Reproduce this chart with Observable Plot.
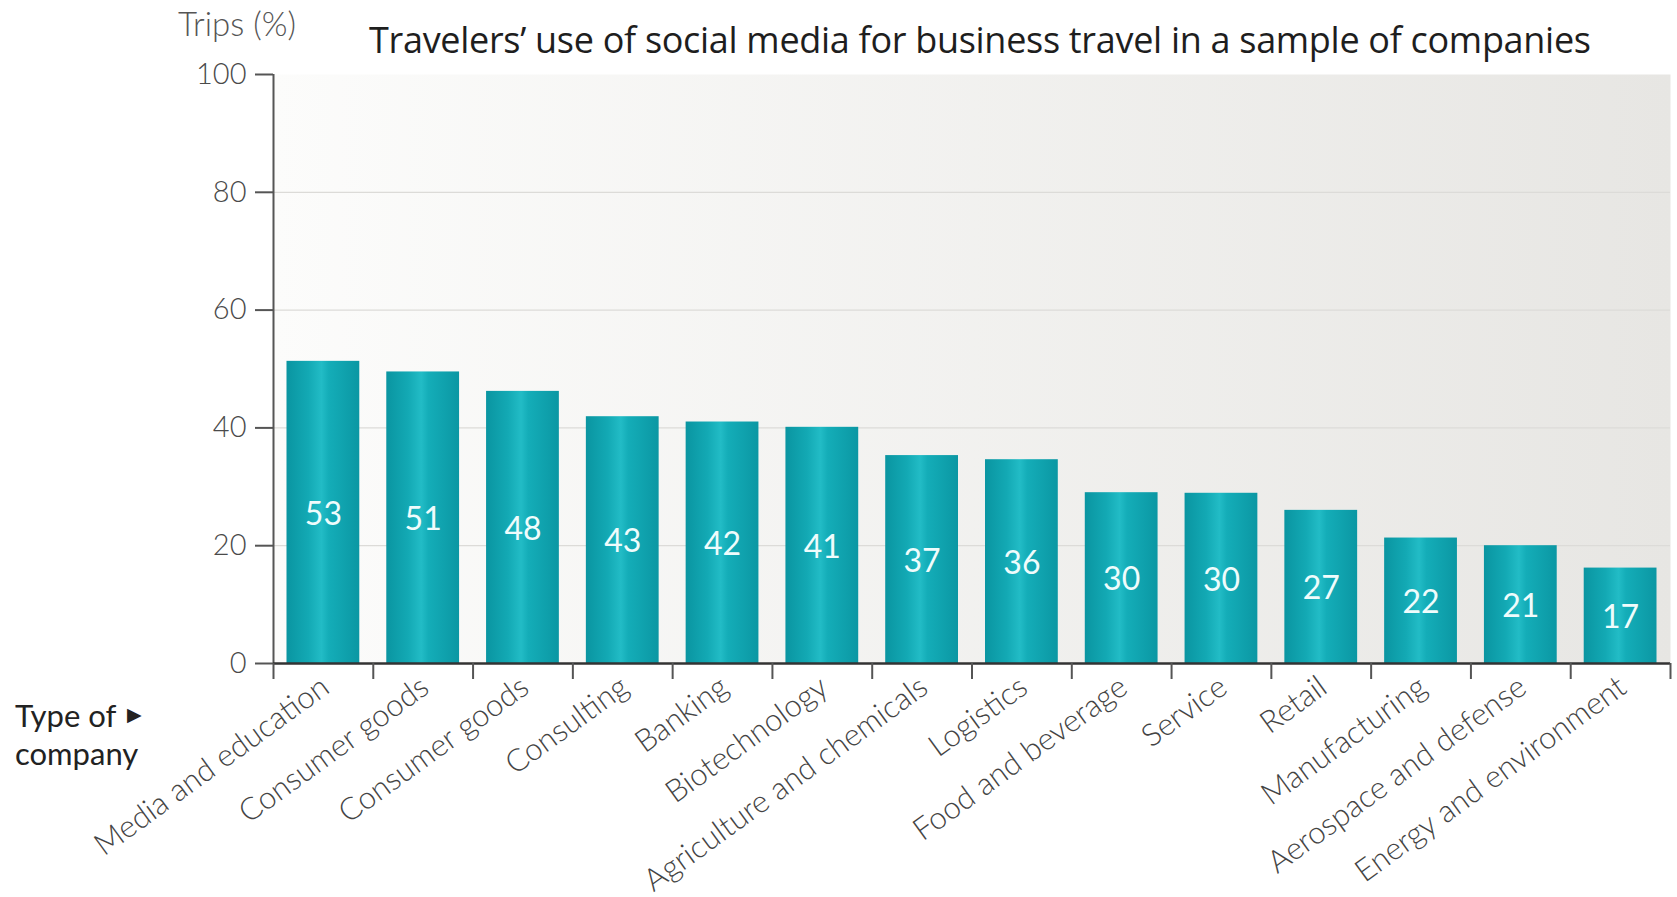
<!DOCTYPE html>
<html>
<head>
<meta charset="utf-8">
<script src="https://cdn.jsdelivr.net/npm/d3@7"></script>
<script src="https://cdn.jsdelivr.net/npm/@observablehq/plot@0.6"></script>
<style>
  html, body { margin: 0; padding: 0; background: #ffffff; }
  #wrap { position: relative; width: 1677px; height: 897px; overflow: hidden; font-family: Lato, "Open Sans", sans-serif; }
  #wrap svg { position: absolute; left: 0; top: 0; }
  .lbl { position: absolute; white-space: nowrap; }
  #title { left: 369px; top: 19px; font-family: "Open Sans", Lato, sans-serif; font-size: 36px; line-height: 42px; color: #1e1e1e; font-weight: 500; letter-spacing: -0.3px; }
  #ytitle { left: 178px; top: 4px; font-size: 33px; line-height: 38px; color: #555; font-weight: 300; }
  #xtitle1 { left: 15px; top: 697px; font-size: 31px; line-height: 36px; color: #222; }
  #xtitle2 { left: 15px; top: 735px; font-size: 31px; line-height: 36px; color: #222; }
  #xarrow { left: 127px; top: 704px; font-size: 19px; line-height: 20px; color: #222; }
</style>
</head>
<body>
<div id="wrap">
  <div id="title" class="lbl">Travelers’ use of social media for business travel in a sample of companies</div>
  <div id="ytitle" class="lbl">Trips (%)</div>
  <div id="xtitle1" class="lbl">Type of</div>
  <div id="xarrow" class="lbl">▶</div>
  <div id="xtitle2" class="lbl">company</div>
</div>
<script>
// Company types, in the order shown
const categories = [
  "Media and education", "Consumer goods", "Consumer goods", "Consulting",
  "Banking", "Biotechnology", "Agriculture and chemicals", "Logistics",
  "Food and beverage", "Service", "Retail", "Manufacturing",
  "Aerospace and defense", "Energy and environment"
];
// Printed values on the bars (%)
const printedValues = [53, 51, 48, 43, 42, 41, 37, 36, 30, 30, 27, 22, 21, 17];
// Bar heights as drawn against the axis (%)
const barHeights = [51.3, 49.5, 46.2, 41.9, 41.0, 40.1, 35.3, 34.6, 29.0, 28.9, 26.0, 21.3, 20.0, 16.2];
// Y axis ticks
const yTicks = [0, 20, 40, 60, 80, 100];
const gridTicks = [20, 40, 60, 80];

const data = categories.map((c, i) => ({i, category: c, printed: printedValues[i], height: barHeights[i]}));
const boundaries = d3.range(categories.length + 1);
const centers = d3.range(categories.length).map(i => i + 0.5);

const chart = Plot.plot({
  width: 1677,
  height: 897,
  marginLeft: 273,
  marginRight: 7,
  marginTop: 74,
  marginBottom: 234,
  style: {background: "transparent", fontFamily: "Lato, 'Open Sans', sans-serif", overflow: "visible"},
  x: {domain: [0, categories.length], axis: null, label: null},
  y: {domain: [0, 100], axis: null, label: null},
  marks: [
    Plot.frame({fill: "url(#bgGrad)", stroke: "none"}),
    Plot.gridY(gridTicks, {stroke: "#dcdbd8", strokeOpacity: 1, strokeWidth: 1.2}),
    Plot.rectY(data, {x1: "i", x2: d => d.i + 1, y: "height", insetLeft: 13.5, insetRight: 13.5, fill: "url(#barGrad)"}),
    Plot.text(data, {x: d => d.i + 0.5, y: d => d.height / 2, text: d => String(d.printed), fill: "#effcfc", fontSize: 32, dy: 2}),
    Plot.axisY({ticks: yTicks, label: null, tickSize: 18, tickPadding: 9, fontSize: 29, fontWeight: 300, color: "#4a4a4a", stroke: "#555", strokeWidth: 2, tickFormat: d => String(d)}),
    Plot.ruleX([0], {y1: 0, y2: 100, stroke: "#555", strokeWidth: 2}),
    Plot.ruleY([0], {stroke: "#333", strokeWidth: 2.5}),
    Plot.axisX({ticks: boundaries, label: null, tickSize: 16, tickFormat: () => "", stroke: "#555", strokeWidth: 2}),
    Plot.text(categories, {x: (d, i) => centers[i], frameAnchor: "bottom", text: d => d, rotate: -36, textAnchor: "end", lineAnchor: "middle", dx: 2, dy: 20, fontSize: 31, fill: "#444", fontWeight: 300})
  ]
});

const defs = d3.select(chart).insert("defs", ":first-child");
const bg = defs.append("linearGradient").attr("id", "bgGrad").attr("x1", "0").attr("x2", "1").attr("y1", "0").attr("y2", "0");
bg.append("stop").attr("offset", "0%").attr("stop-color", "#fcfcfb");
bg.append("stop").attr("offset", "100%").attr("stop-color", "#e7e6e3");
const bar = defs.append("linearGradient").attr("id", "barGrad").attr("x1", "0").attr("x2", "1").attr("y1", "0").attr("y2", "0");
[["0%", "#0a95a1"], ["30%", "#13a9b4"], ["48%", "#22bcc6"], ["58%", "#14adb8"], ["100%", "#0b97a3"]].forEach(([o, c]) =>
  bar.append("stop").attr("offset", o).attr("stop-color", c));

document.getElementById("wrap").appendChild(chart);
</script>
</body>
</html>
